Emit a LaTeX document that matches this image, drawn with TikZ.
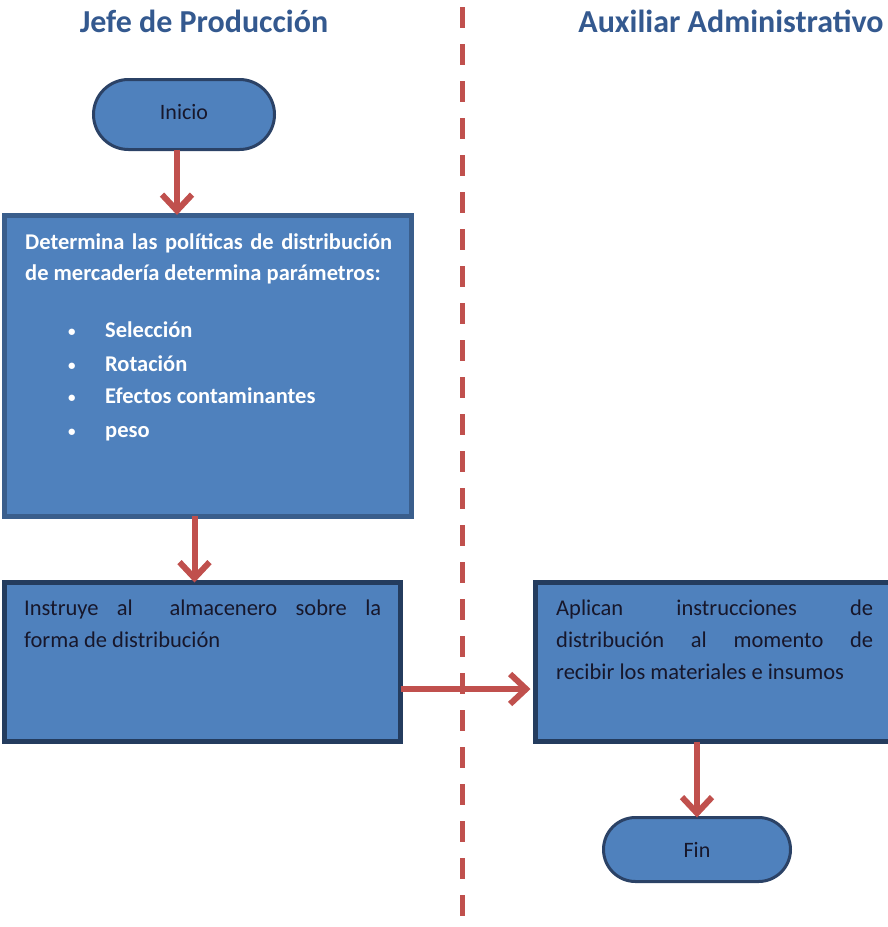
\documentclass[tikz,border=0pt]{standalone}
\usepackage{fontspec}
\setmainfont{Carlito}
\usetikzlibrary{arrows.meta}
\definecolor{boxfill}{HTML}{4F81BD}
\definecolor{boxline}{HTML}{3A5E8C}
\definecolor{boxlinedark}{HTML}{243C5E}
\definecolor{termline}{HTML}{2B4266}
\definecolor{redline}{HTML}{C0504D}
\definecolor{titlecol}{HTML}{34598F}
\definecolor{darktext}{HTML}{17172B}
\newcommand{\bul}{\llap{\makebox[35pt][l]{\hspace{-2pt}\raisebox{1pt}{\fontsize{15}{15}\selectfont•}}}}
\tikzset{
  x=1pt,y=-1pt,
  terminal/.style={draw=termline,line width=3pt,fill=boxfill,rounded corners=#1,inner sep=0pt,outer sep=0pt},
  termtext/.style={font=\fontsize{22}{26}\selectfont,text=darktext,inner sep=0pt},
  procbox/.style={draw=boxline,line width=5pt,fill=boxfill,inner sep=0pt,outer sep=0pt},
  procboxdark/.style={draw=boxlinedark,line width=5pt,fill=boxfill,inner sep=0pt,outer sep=0pt},
  lanetitle/.style={font=\bfseries\fontsize{32}{36}\selectfont,text=titlecol,inner sep=0pt,anchor=base},
  whitetext/.style={font=\bfseries\fontsize{22.5}{31}\selectfont,text=white,inner sep=0pt,anchor=base west},
  darkpara/.style={font=\fontsize{22.5}{32}\selectfont,text=darktext,inner sep=0pt,anchor=base west},
  flowarrow/.style={draw=redline,line width=6pt,-{Straight Barb[length=16pt,width=30pt]}},
  lanedivider/.style={draw=redline,line width=5pt,dash pattern=on 21pt off 16pt}
}
\begin{document}
\begin{tikzpicture}
\useasboundingbox (0,0) rectangle (887,927);
% titles
\node[lanetitle] (t1) at (204,32) {Jefe de Producción};
\node[lanetitle] (t2) at (731,32) {Auxiliar Administrativo};
% divider
\coordinate (dtop) at (462,7);
\coordinate (dbot) at (462,921);
\draw[lanedivider] (dtop) -- (dbot);
% shapes
\node[terminal=35pt,minimum width=181pt,minimum height=70pt] (inicio) at (184,114.5) {};
\node[termtext] (inicioT) at ([yshift=2pt]inicio.center) {Inicio};
\node[procbox,minimum width=407pt,minimum height=301pt] (box1) at (207.5,365.5) {};
\node[procboxdark,minimum width=396pt,minimum height=159pt] (box2) at (202.5,662) {};
\node[procboxdark,minimum width=360pt,minimum height=159pt] (box3) at (715.5,662) {};
\node[terminal=32pt,minimum width=187pt,minimum height=64pt] (fin) at (697,849.5) {};
\node[termtext] (finT) at (fin.center) {Fin};
% box1 text
\node[whitetext] (p1) at (25,249) {\parbox[t]{367pt}{\fontsize{22.5}{31}\selectfont
  \makebox[367pt][s]{Determina las políticas de distribución}\\
  de mercadería determina parámetros:}};
\node[whitetext] (l1) at (105,337) {\bul Selección};
\node[whitetext] (l2) at (105,371) {\bul Rotación};
\node[whitetext] (l3) at (105,403) {\bul Efectos contaminantes};
\node[whitetext] (l4) at (105,437) {\bul peso};
% box2 text
\node[darkpara] (p2) at (24,615) {\parbox[t]{357pt}{\fontsize{22.5}{32}\selectfont
  \makebox[357pt][s]{Instruye al\ \ almacenero sobre la}\\
  forma de distribución}};
% box3 text
\node[darkpara] (p3) at (556,615) {\parbox[t]{317pt}{\fontsize{22.5}{32}\selectfont
  \makebox[317pt][s]{Aplican instrucciones de}\\
  \makebox[317pt][s]{distribución al momento de}\\
  recibir los materiales e insumos}};
% arrows
\draw[flowarrow] ([xshift=-7pt]inicio.south) -- ([xshift=-7pt]inicio.south |- box1.north);
\draw[flowarrow] ([xshift=-13pt]box1.south) -- ([xshift=-13pt]box1.south |- box2.north);
\draw[flowarrow] ([yshift=-27pt]box2.east) -- ([yshift=-27pt,xshift=-5pt]box2.east -| box3.west);
\draw[flowarrow] (fin.north |- box3.south) -- (fin.north);
\end{tikzpicture}
\end{document}
